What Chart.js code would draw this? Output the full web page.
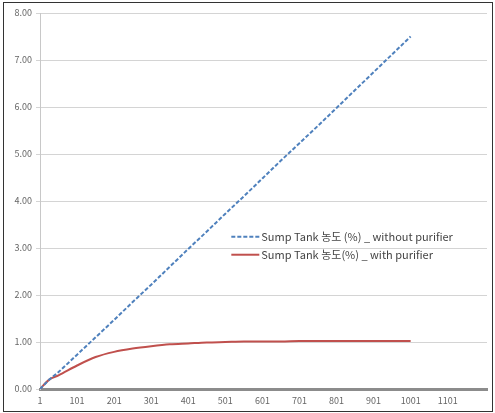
<!DOCTYPE html>
<html>
<head>
<meta charset="utf-8">
<script src="https://cdn.jsdelivr.net/npm/chart.js@4"></script>
<style>
  body { margin: 0; background: #fff; }
  #wrap { position: relative; width: 495px; height: 413px; }
  #frame { position: absolute; left: 3px; top: 2px; width: 488px; height: 408px; border: 1px solid #333; pointer-events: none; }
</style>
</head>
<body>
<div id="wrap">
  <canvas id="sump" width="495" height="413"></canvas>
  <div id="frame"></div>
</div>
<script>
// data
var steps = [1, 26, 51, 101, 151, 201, 251, 301, 351, 401, 451, 501, 551, 601, 651, 701, 751, 801, 851, 901, 951, 1001]
var withoutPurifier = [0, 0.2, 0.36, 0.73, 1.1, 1.47, 1.85, 2.22, 2.6, 2.98, 3.35, 3.73, 4.1, 4.48, 4.86, 5.23, 5.6, 5.98, 6.36, 6.74, 7.12, 7.5]
var withPurifier = [0, 0.2, 0.29, 0.5, 0.68, 0.79, 0.86, 0.91, 0.95, 0.97, 0.99, 1.0, 1.01, 1.01, 1.01, 1.02, 1.02, 1.02, 1.02, 1.02, 1.02, 1.02]
var xTicks = [1, 101, 201, 301, 401, 501, 601, 701, 801, 901, 1001, 1101]
var seriesNames = ["Sump Tank 농도 (%) _ without purifier", "Sump Tank 농도(%) _ with purifier"]

var font = "'Noto Sans CJK KR', 'Open Sans', sans-serif"

function pts(vals) {
    var out = []
    for (let i = 0; i < steps.length; i++) {
        out.push({x: steps[i], y: vals[i]})
    }
    return out
}

// legend drawn inside the plot, like the Excel original
var insideLegend = {
    id: 'insideLegend',
    afterDraw: function(chart) {
        var ctx = chart.ctx
        var a = chart.chartArea
        var x0 = a.left + (a.right - a.left) * 0.428
        var y0 = a.top + (a.bottom - a.top) * 0.595
        var ds = chart.data.datasets
        ctx.save()
        ctx.font = "11px " + font
        ctx.textBaseline = 'middle'
        for (let i = 0; i < ds.length; i++) {
            var y = y0 + i * 18
            ctx.strokeStyle = ds[i].borderColor
            ctx.lineWidth = ds[i].borderWidth
            ctx.setLineDash(ds[i].borderDash || [])
            ctx.beginPath()
            ctx.moveTo(x0, y)
            ctx.lineTo(x0 + 28, y)
            ctx.stroke()
            ctx.setLineDash([])
            ctx.fillStyle = '#444'
            ctx.fillText(ds[i].label, x0 + 30, y)
        }
        ctx.restore()
    }
}

var ctx = document.getElementById('sump').getContext('2d')
var myChart = new Chart(ctx, {
    type: 'line',
    data: {
        datasets: [{
            label: seriesNames[0],
            data: pts(withoutPurifier),
            borderColor: '#4f81bd',
            borderWidth: 2,
            borderDash: [4, 2],
            pointRadius: 0,
            tension: 0
        }, {
            label: seriesNames[1],
            data: pts(withPurifier),
            borderColor: '#c0504d',
            borderWidth: 2,
            pointRadius: 0,
            cubicInterpolationMode: 'monotone'
        }]
    },
    plugins: [insideLegend],
    options: {
        responsive: false,
        animation: false,
        layout: { padding: { left: 4, right: 8, top: 13, bottom: 0 } },
        plugins: { legend: { display: false }, tooltip: { enabled: false } },
        scales: {
            x: {
                type: 'linear',
                min: 1,
                max: 1207,
                afterBuildTicks: function(scale) {
                    scale.ticks = xTicks.map(function(v) { return {value: v} })
                },
                afterFit: function(scale) { scale.height = 24 },
                grid: { display: false, drawTicks: false },
                border: { color: '#8c8c8c', width: 3 },
                ticks: {
                    autoSkip: false,
                    maxRotation: 0,
                    padding: 6,
                    color: '#666',
                    font: { size: 9, family: font },
                    callback: function(v) { return String(v) }
                }
            },
            y: {
                min: 0,
                max: 8,
                afterFit: function(scale) { scale.width = 36 },
                grid: { color: '#d4d4d4', tickLength: 4 },
                border: { color: '#c8c8c8' },
                ticks: {
                    stepSize: 1,
                    padding: 4,
                    color: '#666',
                    font: { size: 9, family: font },
                    callback: function(v) { return v.toFixed(2) }
                }
            }
        }
    }
})
</script>
</body>
</html>
